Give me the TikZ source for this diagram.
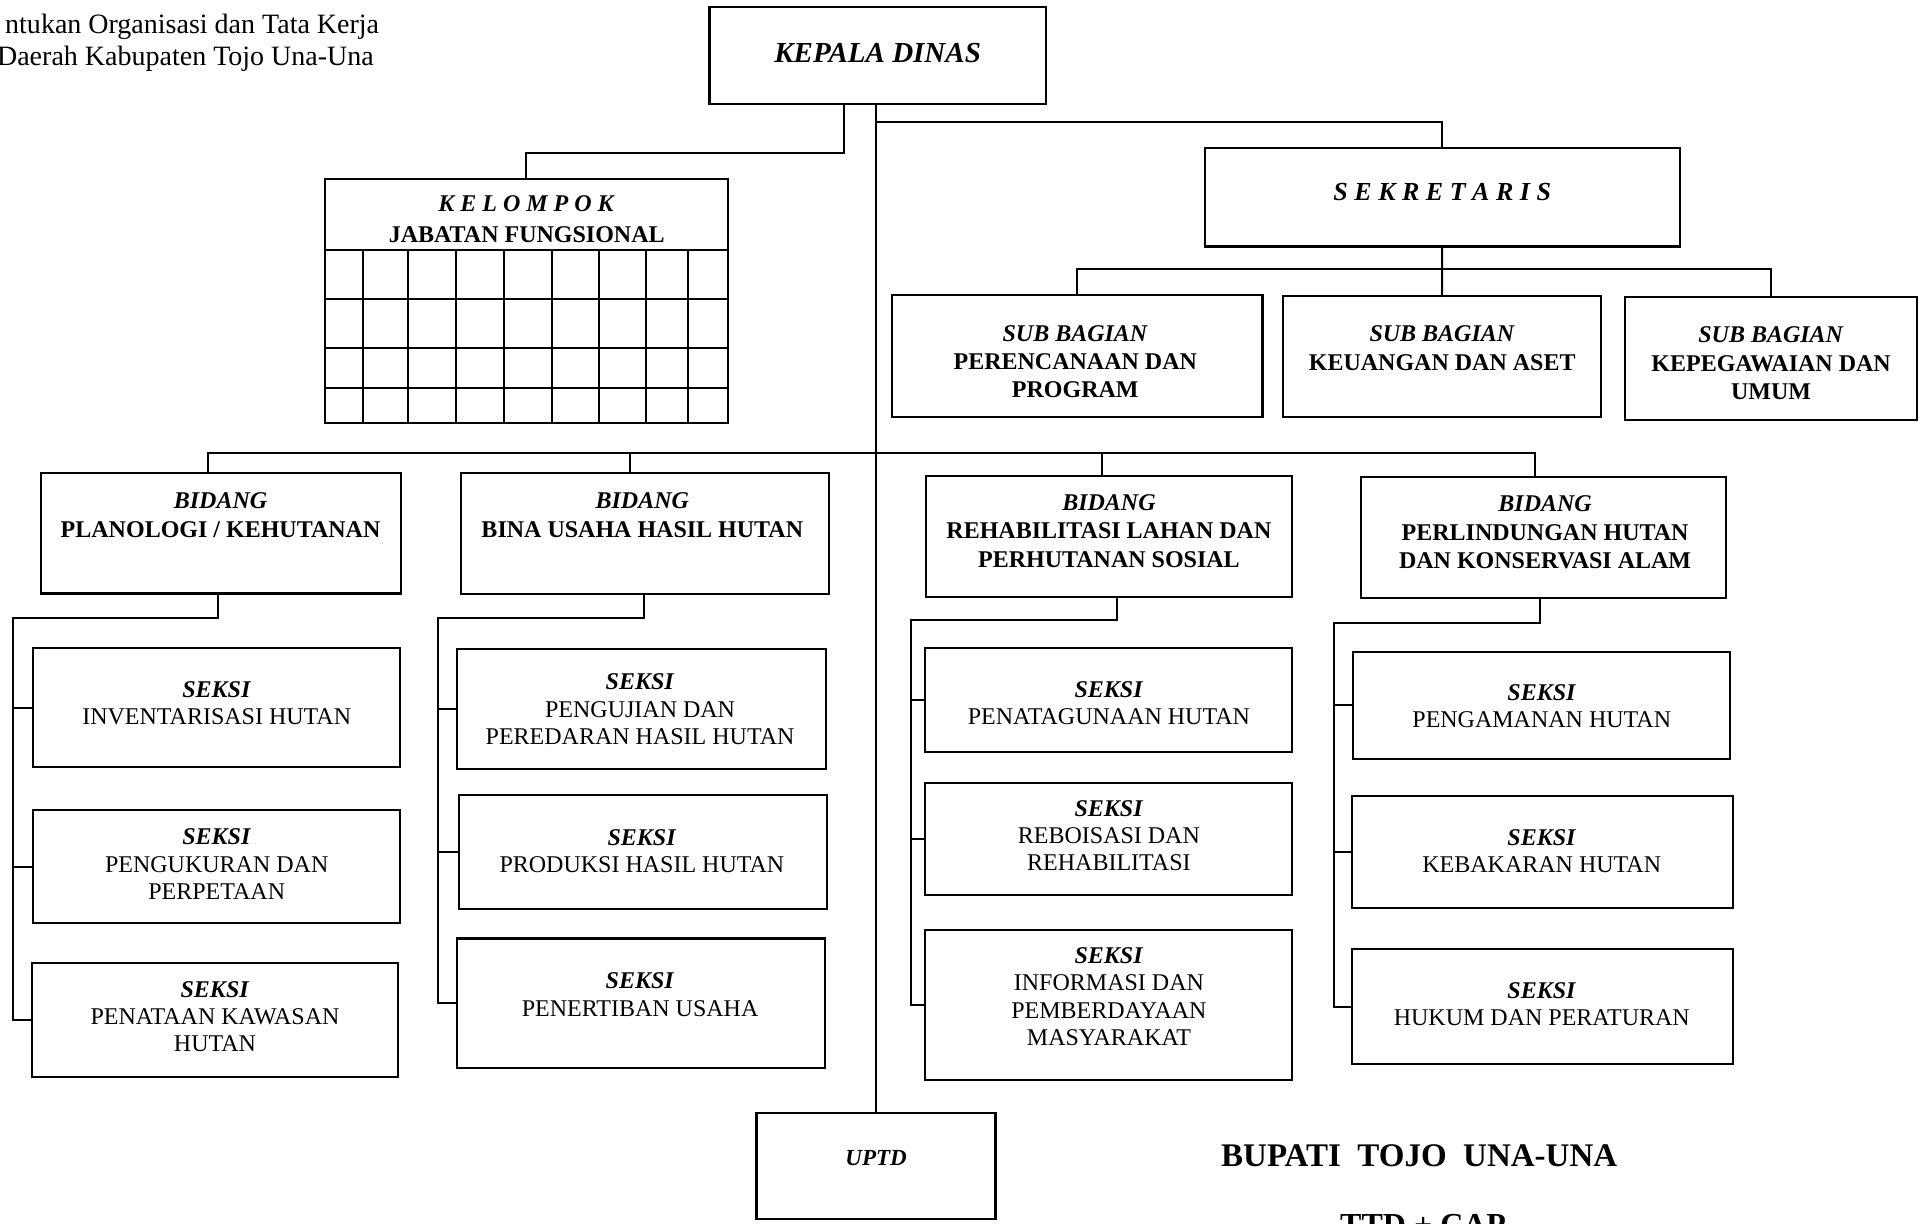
\documentclass[tikz,border=0pt]{standalone}
\usepackage{fontspec}
\setmainfont{Liberation Serif}
\usetikzlibrary{fit,calc}
\newcommand\hdit[1]{\textbf{\textit{#1}}}
\begin{document}
\begin{tikzpicture}[x=0.616pt,y=-0.616pt,
  orgbox/.style={draw, line width=1.1pt, inner sep=0pt},
  link/.style={line width=1pt},
  txt/.style={align=center, inner sep=0pt, font=\fontsize{12}{13.6}\selectfont},
  hdtxt/.style={align=center, inner sep=0pt, font=\fontsize{12}{14.2}\selectfont\bfseries},
]
\useasboundingbox (0,0) rectangle (1568,993);
\fill[white] (0,0) rectangle (1568,993);
\clip (0,0) rectangle (1568,993);

% heading lines of the regulation
\node[anchor=base east, inner sep=0pt, font=\fontsize{14}{16}\selectfont] (reg1) at (308,27) {ntukan Organisasi dan Tata Kerja};
\node[anchor=base east, inner sep=0pt, font=\fontsize{14}{16}\selectfont] (reg2) at (303.7,52.8) {Daerah Kabupaten Tojo Una-Una};

% head of office
\node[orgbox, fit={(575.9,5.4) (848.7,84.7)}] (kepala) {};
\node[inner sep=0pt, font=\fontsize{14.5}{16}\selectfont\bfseries\itshape] (kepala-t) at (712.3,43) {KEPALA DINAS};

% secretary
\node[orgbox, fit={(977.7,120.4) (1363.3,200)}] (sek) {};
\node[inner sep=0pt, font=\fontsize{13}{15}\selectfont\bfseries\itshape] (sek-t) at (1170.5,156) {S E K R E T A R I S};

% functional group with its grid
\node[orgbox, fit={(263.8,145.3) (590.6,343)}] (kel) {};
\node[hdtxt, font=\fontsize{12}{15.8}\selectfont\bfseries] (kel-t) at (427.5,177.9) {\hdit{K E L O M P O K}\\JABATAN FUNGSIONAL};
\foreach \y in {202.9,242.9,282.7,314.6}
  \draw[link] (263.8,\y) -- (590.6,\y);
\foreach \x in {294.4,331.4,369.8,409.1,448.3,486.4,524.3,558.1}
  \draw[link] (\x,202.9) -- (\x,343);

% sub-divisions of the secretary
\node[orgbox, fit={(724,239.4) (1024.6,338.7)}] (sb1) {};
\node[hdtxt] (sb1-t) at (872.7,293.5) {\hdit{SUB BAGIAN}\\PERENCANAAN DAN\\PROGRAM};
\node[orgbox, fit={(1041,240.2) (1299.6,338.7)}] (sb2) {};
\node[hdtxt] (sb2-t) at (1170.5,282.7) {\hdit{SUB BAGIAN}\\KEUANGAN DAN ASET};
\node[orgbox, fit={(1318.6,240.8) (1555.6,340.9)}] (sb3) {};
\node[hdtxt] (sb3-t) at (1437.4,294.9) {\hdit{SUB BAGIAN}\\KEPEGAWAIAN DAN\\UMUM};

% divisions
\node[orgbox, fit={(33,384.2) (325.6,481.6)}] (bid1) {};
\node[hdtxt] (bid1-t) at (179,418) {\hdit{BIDANG}\\PLANOLOGI / KEHUTANAN};
\node[orgbox, fit={(374,384.2) (673,482.1)}] (bid2) {};
\node[hdtxt] (bid2-t) at (521.3,418) {\hdit{BIDANG}\\BINA USAHA HASIL HUTAN};
\node[orgbox, fit={(751.8,386.3) (1048.4,484.3)}] (bid3) {};
\node[hdtxt] (bid3-t) at (900,431) {\hdit{BIDANG}\\REHABILITASI LAHAN DAN\\PERHUTANAN SOSIAL};
\node[orgbox, fit={(1104.5,386.9) (1401,485.6)}] (bid4) {};
\node[hdtxt] (bid4-t) at (1254,432) {\hdit{BIDANG}\\PERLINDUNGAN HUTAN\\DAN KONSERVASI ALAM};

% sections, division 1
\node[orgbox, fit={(27,526.2) (324.6,622.8)}] (s11) {};
\node[txt] (s11-t) at (175.9,570.9) {\hdit{SEKSI}\\INVENTARISASI HUTAN};
\node[orgbox, fit={(27,657.4) (324.6,749.4)}] (s12) {};
\node[txt] (s12-t) at (175.9,701.3) {\hdit{SEKSI}\\PENGUKURAN DAN\\PERPETAAN};
\node[orgbox, fit={(25.7,781.3) (323.3,874.4)}] (s13) {};
\node[txt] (s13-t) at (174.5,825) {\hdit{SEKSI}\\PENATAAN KAWASAN\\HUTAN};

% sections, division 2
\node[orgbox, fit={(371.2,527) (670.4,624.1)}] (s21) {};
\node[txt] (s21-t) at (519.5,575.6) {\hdit{SEKSI}\\PENGUJIAN DAN\\PEREDARAN HASIL HUTAN};
\node[orgbox, fit={(372.8,645.3) (671.5,737.8)}] (s22) {};
\node[txt] (s22-t) at (521,690.5) {\hdit{SEKSI}\\PRODUKSI HASIL HUTAN};
\node[orgbox, fit={(370.6,761.6) (669.6,867.1)}] (s23) {};
\node[txt] (s23-t) at (519.5,807.2) {\hdit{SEKSI}\\PENERTIBAN USAHA};

% sections, division 3
\node[orgbox, fit={(750.8,526.2) (1048.3,610.1)}] (s31) {};
\node[txt] (s31-t) at (900,570.9) {\hdit{SEKSI}\\PENATAGUNAAN HUTAN};
\node[orgbox, fit={(750.8,635.2) (1048.3,726.4)}] (s32) {};
\node[txt] (s32-t) at (900,678.1) {\hdit{SEKSI}\\REBOISASI DAN\\REHABILITASI};
\node[orgbox, fit={(750.8,754.8) (1048.3,876.5)}] (s33) {};
\node[txt] (s33-t) at (900,808.9) {\hdit{SEKSI}\\INFORMASI DAN\\PEMBERDAYAAN\\MASYARAKAT};

% sections, division 4
\node[orgbox, fit={(1098.4,528.9) (1404.1,616)}] (s41) {};
\node[txt] (s41-t) at (1251.3,572.9) {\hdit{SEKSI}\\PENGAMANAN HUTAN};
\node[orgbox, fit={(1097,645.8) (1406.8,737.2)}] (s42) {};
\node[txt] (s42-t) at (1251.3,690.5) {\hdit{SEKSI}\\KEBAKARAN HUTAN};
\node[orgbox, fit={(1097,770.2) (1406.8,863.6)}] (s43) {};
\node[txt] (s43-t) at (1251.3,815) {\hdit{SEKSI}\\HUKUM DAN PERATURAN};

% technical unit
\node[orgbox, fit={(614,903.6) (808,989.6)}] (uptd) {};
\node[inner sep=0pt, font=\fontsize{11.5}{13}\selectfont\bfseries\itshape] (uptd-t) at (711,940) {UPTD};

% signature block
\node[inner sep=0pt, font=\fontsize{16.5}{18}\selectfont\bfseries] (bupati) at (1151.8,938) {BUPATI~~TOJO~~UNA-UNA};
\node[anchor=north, inner sep=0pt, font=\fontsize{16}{18}\selectfont\bfseries] (ttd) at (1155,985) {TTD + CAP};

% connectors from the head of office
\coordinate (kj) at (685,123.9);
\draw[link] (kepala.south -| kj) -- (kj) -| (kel.north);
\draw[link] (kepala.south -| uptd.north) -- (uptd.north);
\coordinate (sj) at (711,98.8);
\draw[link] (sj) -| (sek.north);

% secretary to its sub-divisions
\coordinate (sbus) at (0,218);
\draw[link] (sek.south) -- (sb2.north);
\draw[link] (sb1.north) |- (sbus -| sb3.north) -- (sb3.north);

% bus to the divisions
\coordinate (bbus) at (0,367.4);
\coordinate (b1x) at (168.5,0);
\coordinate (b2x) at (511.5,0);
\coordinate (b3x) at (894.6,0);
\coordinate (b4x) at (1246,0);
\draw[link] (b1x |- bid1.north) -- (b1x |- bbus) -- (b4x |- bbus) -- (b4x |- bid4.north);
\draw[link] (b2x |- bbus) -- (b2x |- bid2.north);
\draw[link] (b3x |- bbus) -- (b3x |- bid3.north);

% divisions to their sections
\foreach \i/\gx/\gy/\rx in {1/177.2/501.8/10.3, 2/522.7/501.8/355.8, 3/906.3/503.2/739.1, 4/1249.9/505.4/1083}{
  \coordinate (g\i) at (\gx,\gy);
  \coordinate (r\i) at (\rx,\gy);
  \draw[link] (g\i |- bid\i.south) -- (g\i) -- (r\i) |- (s\i3.west);
  \draw[link] (r\i |- s\i1.west) -- (s\i1.west);
  \draw[link] (r\i |- s\i2.west) -- (s\i2.west);
}
\end{tikzpicture}
\end{document}
